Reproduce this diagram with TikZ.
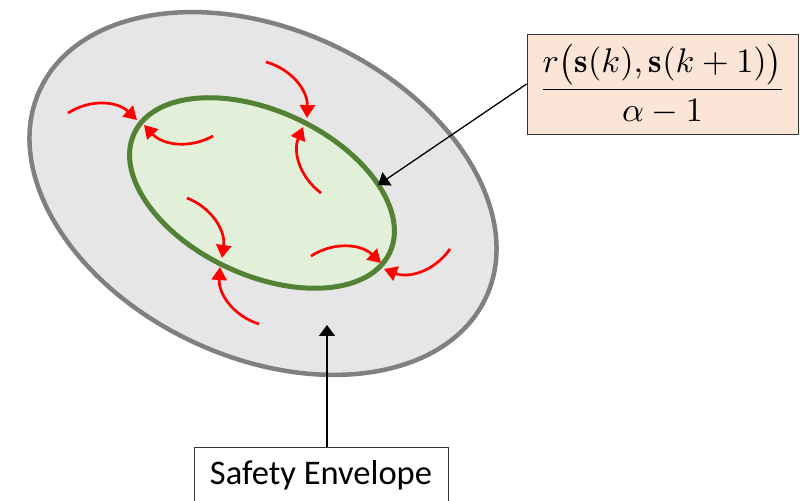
\documentclass[tikz,border=0pt]{standalone}
\usepackage{fontspec}
\usepackage{amsmath}
\usepackage{graphicx}
\newfontfamily\calib{Carlito}
\usetikzlibrary{arrows.meta}
\definecolor{outerfill}{RGB}{230,230,230}
\definecolor{outerline}{RGB}{128,128,128}
\definecolor{innerline}{RGB}{84,130,53}
\definecolor{innerfill}{RGB}{226,240,217}
\definecolor{peach}{RGB}{251,229,214}
\definecolor{redarr}{RGB}{255,0,0}
\tikzset{
  flowarrow/.style={draw=redarr, line width=2.7pt, -{Triangle[length=13pt,width=15pt]}, bend left=38},
  pointer/.style={draw=black, line width=1.3pt, -{Triangle[length=11pt,width=16pt]}},
  labelbox/.style={draw=black!80, line width=0.8pt},
}
\begin{document}
\begin{tikzpicture}[x=1pt,y=1pt]
\useasboundingbox (0,0) rectangle (812,501);
\clip (0,0) rectangle (812,501);
% safety envelope region
\draw[fill=outerfill, draw=outerline, line width=4.5pt, rotate around={-25:(263,307.5)}]
  (263,307.5) ellipse [x radius=246, y radius=164];
% inner set
\draw[fill=innerfill, draw=innerline, line width=5pt, rotate around={-25:(262,308)}]
  (262,308) ellipse [x radius=141, y radius=82];
% red arrow coordinates
\coordinate (s1) at (68,388);  \coordinate (t1) at (137,381);
\coordinate (s2) at (213,365); \coordinate (t2) at (144,376);
\coordinate (s3) at (266,439); \coordinate (t3) at (307,383);
\coordinate (s4) at (321,308); \coordinate (t4) at (303,374);
\coordinate (s5) at (187,303); \coordinate (t5) at (222,243);
\coordinate (s6) at (259,177); \coordinate (t6) at (220,234);
\coordinate (s7) at (311,245); \coordinate (t7) at (381,238);
\coordinate (s8) at (450,252); \coordinate (t8) at (384,232);
\foreach \i in {1,...,8} {
  \draw[flowarrow] (s\i) to (t\i);
}
% formula box
\node[labelbox, fill=peach, minimum width=271pt, minimum height=100pt, inner sep=0pt] (formula) at (662.5,417)
  {\resizebox{248pt}{!}{$\displaystyle\frac{r\big(\mathbf{s}(k),\mathbf{s}(k+1)\big)}{\alpha-1}$}};
\coordinate (ftip) at (378,316);
\draw[pointer] (formula.west) -- (ftip);
% safety envelope label
\node[labelbox, fill=white, anchor=base, text height=22pt, text depth=10pt, inner ysep=16pt,
      minimum width=254pt, font=\calib\fontsize{34.5}{41}\selectfont] (safety) at (321,16) {Safety Envelope};
\coordinate (stip) at (327,176);
\draw[pointer] (safety.north -| stip) -- (stip);
\end{tikzpicture}
\end{document}
